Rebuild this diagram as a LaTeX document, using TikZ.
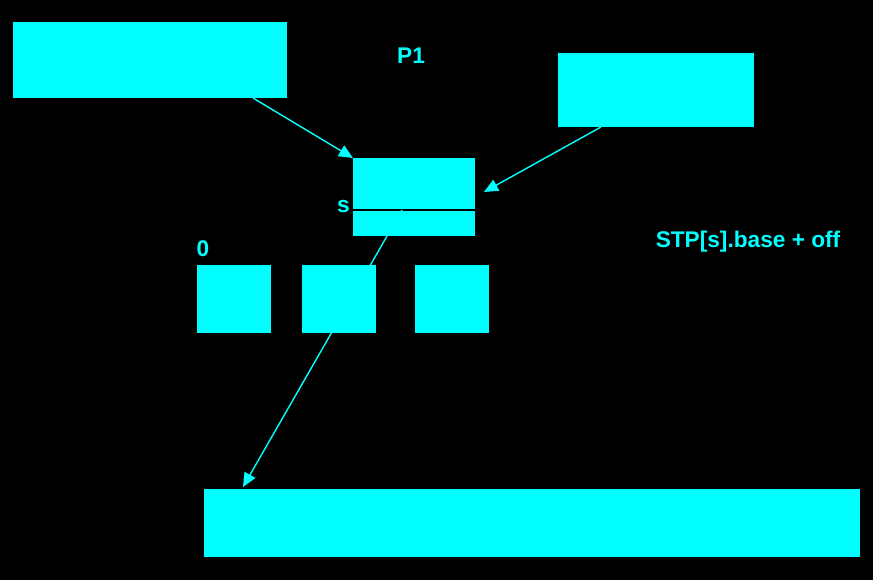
\documentclass[tikz,border=0pt]{standalone}
\usepackage{fontspec}
\setmainfont{Liberation Sans}
\usetikzlibrary{arrows.meta,positioning}
\definecolor{aqua}{RGB}{0,255,255}

\begin{document}
\begin{tikzpicture}[
            x=0.02cm, y=-0.02cm,
            cell/.style={fill=aqua, inner sep=0pt, outer sep=0pt},
            slot/.style={cell, minimum width=1.48cm, minimum height=1.36cm},
            lbl/.style={text=aqua, font=\fontsize{12.9}{14}\selectfont\bfseries, inner sep=0pt},
            ptr/.style={-{Triangle[length=8pt,width=7pt]}, aqua, line width=0.8pt},
        ]
            \fill[black] (0,0) rectangle (873,580);
            \useasboundingbox (0,0) rectangle (873,580);

            \node[cell, minimum width=5.48cm, minimum height=1.52cm] (procbox) at (150,60) {};
            \node[cell, minimum width=3.92cm, minimum height=1.48cm] (srcbox) at (656,90) {};
            \node[cell, minimum width=2.44cm, minimum height=1.56cm] (stp) at (414,197) {};
            \node[slot] (seg0) at (234,299) {};
            \node[slot] (seg1) at (339,299) {};
            \node[slot] (seg2) at (452,299) {};
            \node[cell, minimum width=13.12cm, minimum height=1.36cm] (mem) at (532,523) {};

            % row s of the table
            \draw[black, line width=0.9pt] (stp.west |- 0,210) -- (stp.east |- 0,210);

            \node[lbl] (ptitle) at (411,56) {P1};
            \node[lbl] (zero) at (203,249) {0};
            \node[lbl, anchor=east] (srow) at (350,207) {s};
            \node[lbl] (addr) at (748,242) {STP[s].base + off};

            \coordinate (procout) at (253,98);
            \coordinate (srcout) at (601,127);
            \coordinate (srcin) at (484,192);
            \coordinate (rowout) at (402,210);
            \coordinate (memin) at (243,487);

            \draw[ptr] (procout) -- (stp.north west);
            \draw[ptr] (srcout) -- (srcin);
            \draw[ptr] (rowout) -- (memin);

        \end{tikzpicture}
\end{document}
